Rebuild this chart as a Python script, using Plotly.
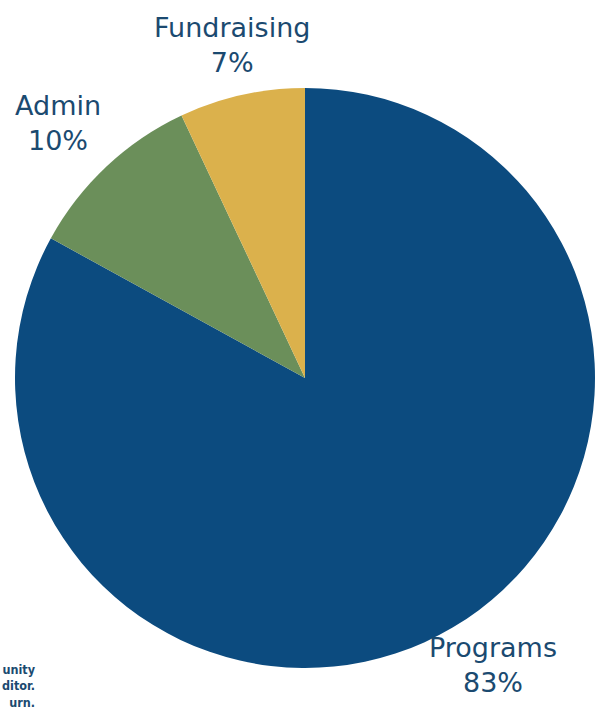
import plotly.graph_objects as go

categories = ["Programs", "Admin", "Fundraising"]
values = [83, 10, 7]
colors = ["#0c4b7f", "#6b8f5a", "#dbb14c"]

# label positions (pixels from top-left)
label_pos = {"Programs": (493, 665), "Admin": (58, 123), "Fundraising": (232, 45)}

W, H = 600, 723
cx, cy, r = 305, 378, 290

fig = go.Figure(go.Pie(
    labels=categories,
    values=values,
    sort=False,
    direction="clockwise",
    rotation=0,
    marker=dict(colors=colors, line=dict(width=0)),
    textinfo="none",
    hoverinfo="label+percent",
    showlegend=False,
    domain=dict(x=[(cx - r) / W, (cx + r) / W], y=[(H - cy - r) / H, (H - cy + r) / H]),
))

annotations = []
for cat, val in zip(categories, values):
    px, py = label_pos[cat]
    annotations.append(dict(
        x=px / W, y=1 - py / H, xref="paper", yref="paper",
        text=f"{cat}<br>{val}%", showarrow=False,
        xanchor="center", yanchor="middle", align="center",
        font=dict(family="DejaVu Sans", size=27, color="#1b4a70"),
    ))

annotations.append(dict(
    x=38 / W, y=1 - 686 / H, xref="paper", yref="paper",
    text="unity<br>ditor.<br>urn.", showarrow=False,
    xanchor="right", yanchor="middle", align="right",
    font=dict(family="DejaVu Sans Condensed, Roboto", size=12.5, color="#1b4a70", weight="bold"),
))

fig.update_layout(
    width=W, height=H,
    margin=dict(l=0, r=0, t=0, b=0),
    paper_bgcolor="white",
    plot_bgcolor="white",
    annotations=annotations,
)

fig.write_html(
    "out.html",
    config={"displayModeBar": False},
    post_script="document.body.style.margin='0';document.body.style.padding='0';",
)
